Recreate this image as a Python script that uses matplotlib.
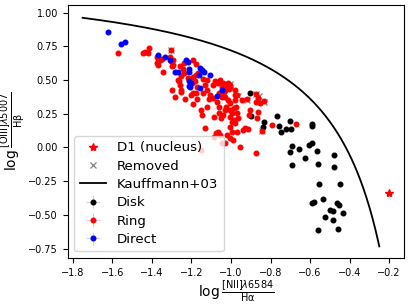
#!/usr/bin/env python3
import numpy as np
import matplotlib
matplotlib.use("Agg")
import matplotlib.pyplot as plt

# --- data ------------------------------------------------------------------
disk_x = [-0.903, -0.900, -0.832, -0.839, -0.765, -0.758, -0.746, -0.721, -0.704,
          -0.697, -0.591, -0.588, -0.689, -0.701, -0.654, -0.605, -0.588, -0.625,
          -0.566, -0.478, -0.691, -0.561, -0.478, -0.554, -0.448, -0.588, -0.580,
          -0.537, -0.465, -0.453, -0.431, -0.499, -0.483, -0.525, -0.482, -0.559,
          -0.460]
disk_y = [0.402, 0.235, 0.190, 0.155, 0.234, 0.160, 0.118, 0.136, 0.195,
          0.136, 0.175, 0.160, 0.012, -0.035, -0.008, 0.017, 0.036, -0.080,
          -0.023, -0.055, -0.131, -0.124, -0.144, -0.272, -0.272, -0.408, -0.401,
          -0.379, -0.408, -0.428, -0.483, -0.463, -0.470, -0.514, -0.537, -0.613,
          -0.601]

ring_x = [-1.572, -1.446, -1.434, -1.418, -1.416, -1.374, -1.367, -1.357, -1.350,
          -1.372, -1.367, -1.345, -1.303, -1.309, -1.296, -1.303, -1.294, -1.291,
          -1.256, -1.240, -1.237, -1.266, -1.256, -1.254, -1.299, -1.283, -1.190,
          -1.176, -1.190, -1.176, -1.165, -1.198, -1.181, -1.173, -1.190, -1.203,
          -1.176, -1.139, -1.122, -1.131, -1.122, -1.139, -1.105, -1.089, -1.080,
          -1.068, -1.055, -1.038, -1.046, -1.030, -1.063, -1.089, -1.046, -1.030,
          -1.013, -1.004, -0.979, -0.970, -1.230, -1.190, -1.173, -1.152, -1.147,
          -1.122, -1.109, -1.072, -1.063, -1.088, -1.063, -1.051, -1.041, -1.034,
          -1.021, -1.007, -1.011, -1.016, -1.004, -1.024, -1.029, -1.007, -0.996,
          -1.004, -0.987, -0.979, -0.982, -0.974, -0.970, -0.962, -0.987, -0.979,
          -1.004, -0.996, -1.021, -1.004, -1.029, -0.991, -0.953, -0.996, -1.066,
          -1.055, -1.046, -1.131, -0.945, -0.920, -0.911, -0.916, -0.928, -0.940,
          -0.970, -0.873, -0.864, -0.873, -0.852, -0.835, -0.869, -0.861, -0.906,
          -0.793, -0.670, -0.874, -0.844, -1.151, -1.088, -1.075, -1.243, -1.255,
          -1.262, -1.252, -1.218]
ring_y = [0.703, 0.701, 0.709, 0.699, 0.738, 0.669, 0.644, 0.649, 0.657,
          0.625, 0.612, 0.563, 0.723, 0.669, 0.605, 0.640, 0.612, 0.649,
          0.605, 0.625, 0.551, 0.501, 0.464, 0.427, 0.427, 0.373, 0.649,
          0.620, 0.526, 0.538, 0.551, 0.476, 0.489, 0.451, 0.402, 0.390,
          0.402, 0.511, 0.498, 0.464, 0.427, 0.402, 0.390, 0.464, 0.489,
          0.476, 0.501, 0.481, 0.451, 0.427, 0.402, 0.365, 0.377, 0.377,
          0.476, 0.451, 0.427, 0.390, 0.362, 0.323, 0.362, 0.278, 0.241,
          0.303, 0.357, 0.340, 0.298, 0.224, 0.254, 0.217, 0.241, 0.414,
          0.446, 0.464, 0.432, 0.355, 0.328, 0.303, 0.278, 0.278, 0.254,
          0.229, 0.291, 0.353, 0.390, 0.303, 0.259, 0.217, 0.204, 0.180,
          0.155, 0.118, 0.093, 0.068, 0.036, 0.056, 0.007, 0.192, 0.118,
          0.093, 0.031, 0.143, 0.353, 0.358, 0.241, 0.135, 0.143, 0.130,
          0.118, 0.395, 0.365, 0.340, 0.328, 0.348, 0.217, 0.266, 0.278,
          0.165, 0.172, -0.043, 0.125, -0.018, 0.076, 0.110, 0.582, 0.528,
          0.491, 0.414, 0.518]

direct_x = [-1.623, -1.556, -1.534, -1.367, -1.333, -1.306, -1.281, -1.268, -1.228,
            -1.215, -1.213, -1.210, -1.210, -1.204, -1.213, -1.205, -1.156, -1.149,
            -1.161, -1.135, -1.104, -1.157, -1.043, -1.072]
direct_y = [0.857, 0.768, 0.780, 0.684, 0.668, 0.646, 0.560, 0.560, 0.649,
            0.637, 0.560, 0.585, 0.492, 0.475, 0.456, 0.445, 0.588, 0.572,
            0.536, 0.562, 0.540, 0.444, 0.427, 0.380]

removed_x = [-1.303, -1.007, -0.962, -0.920, -0.875, -0.858, -0.835, -0.842]
removed_y = [0.723, 0.469, 0.378, 0.355, 0.400, 0.382, 0.340, 0.125]

nucleus_x = [-0.200]
nucleus_y = [-0.337]

err = 0.005  # measurement error bars are tiny at this scale

# Kauffmann et al. 2003 demarcation
kx = np.linspace(-1.75, -0.25, 300)
ky = 0.61 / (kx - 0.05) + 1.3

fig = plt.figure(figsize=(4.11, 3.04), dpi=100)
ax = fig.add_axes([0.165, 0.151, 0.818, 0.833])

ms = 3.3
eb_disk = ax.errorbar(disk_x, disk_y, xerr=err, yerr=err, fmt="o", color="black",
                      ecolor="lightgray", elinewidth=0.8, ms=ms, label="Disk")
eb_ring = ax.errorbar(ring_x, ring_y, xerr=err, yerr=err, fmt="o", color="red",
                      ecolor="lightgray", elinewidth=0.8, ms=ms, label="Ring")
eb_dir = ax.errorbar(direct_x, direct_y, xerr=err, yerr=err, fmt="o", color="blue",
                     ecolor="lightgray", elinewidth=0.8, ms=ms, label="Direct")
rem, = ax.plot(removed_x, removed_y, "x", color="gray", ms=4, mew=0.9,
               label="Removed")
nuc, = ax.plot(nucleus_x, nucleus_y, "*", color="red", ms=6, label="D1 (nucleus)")
kau, = ax.plot(kx, ky, "-", color="black", lw=1.3, label="Kauffmann+03")

ax.set_xlim(-1.825, -0.125)
ax.set_ylim(-0.82, 1.057)
ax.set_xticks([-1.8, -1.6, -1.4, -1.2, -1.0, -0.8, -0.6, -0.4, -0.2])
ax.set_yticks([-0.75, -0.5, -0.25, 0.0, 0.25, 0.5, 0.75, 1.0])
ax.tick_params(labelsize=7)

ax.set_xlabel(r"$\log\frac{[\mathrm{NII}]\lambda6584}{\mathrm{H\alpha}}$",
              fontsize=10, labelpad=0)
ax.set_ylabel(r"$\log\frac{[\mathrm{OIII}]\lambda5007}{\mathrm{H\beta}}$",
              fontsize=10, labelpad=1)

ax.legend(handles=[nuc, rem, kau, eb_disk, eb_ring, eb_dir], loc="lower left",
          fontsize=9.6, labelspacing=0.4, handletextpad=0.8, borderpad=0.4)

fig.savefig("out.png", dpi=100)
